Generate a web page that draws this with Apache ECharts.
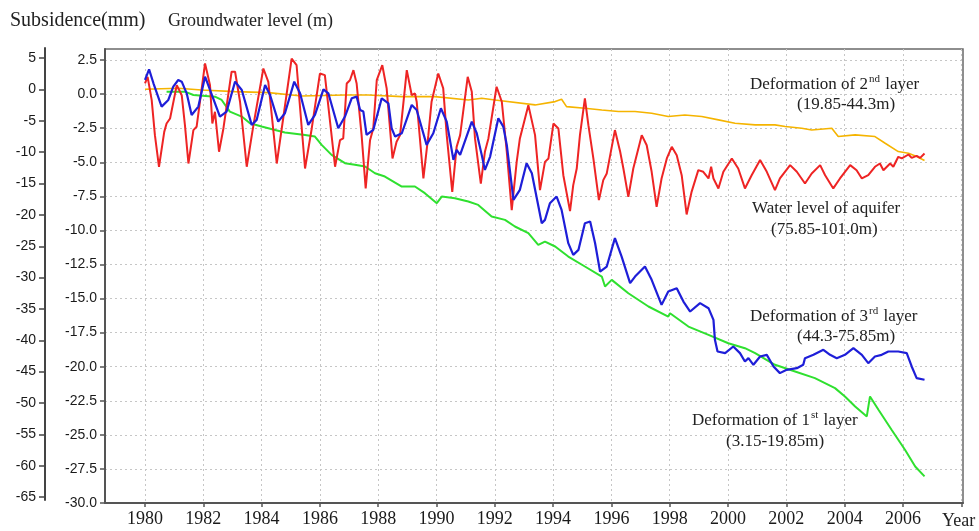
<!DOCTYPE html>
<html><head><meta charset="utf-8">
<script src="https://cdn.jsdelivr.net/npm/echarts@6.0.0/dist/echarts.min.js"></script>
<style>html,body{margin:0;padding:0;background:#fff}#c{width:979px;height:531px}</style>
</head><body><div id="c"></div>
<script>
const xTickYears = [1980,1982,1984,1986,1988,1990,1992,1994,1996,1998,2000,2002,2004,2006,2008];
const xLabelYears = [1980,1982,1984,1986,1988,1990,1992,1994,1996,1998,2000,2002,2004,2006];
const gwTicks = [2.5,0,-2.5,-5,-7.5,-10,-12.5,-15,-17.5,-20,-22.5,-25,-27.5,-30];
const subTicks = [5,0,-5,-10,-15,-20,-25,-30,-35,-40,-45,-50,-55,-60,-65];

// Water level of aquifer (m)
const waterLevel = [[1980.00,0.78],[1980.09,1.27],[1980.23,-0.44],[1980.34,-3.01],[1980.48,-5.33],[1980.66,-2.77],[1980.74,-2.16],[1980.86,-1.79],[1981.09,0.66],[1981.26,-0.08],[1981.37,-2.28],[1981.49,-5.09],[1981.66,-2.64],[1981.77,-2.40],[1982.06,2.25],[1982.23,0.66],[1982.31,-2.16],[1982.40,-1.30],[1982.54,-4.23],[1982.69,-2.52],[1982.97,1.64],[1983.09,1.64],[1983.26,-0.56],[1983.49,-5.33],[1983.72,-2.28],[1984.06,1.88],[1984.23,0.90],[1984.52,-5.09],[1984.74,-1.79],[1985.03,2.61],[1985.20,2.12],[1985.49,-5.46],[1985.72,-2.52],[1986.00,1.51],[1986.17,1.39],[1986.52,-5.33],[1986.69,-3.38],[1986.80,-3.25],[1986.92,0.78],[1987.03,1.02],[1987.15,1.76],[1987.26,0.78],[1987.43,-3.01],[1987.57,-6.92],[1987.72,-3.38],[1987.83,-2.52],[1987.95,1.02],[1988.14,2.12],[1988.29,0.42],[1988.49,-4.72],[1988.63,-3.50],[1988.75,-3.01],[1988.98,1.76],[1989.15,-0.08],[1989.26,0.05],[1989.32,-0.56],[1989.55,-6.19],[1989.72,-3.01],[1989.83,-0.56],[1990.06,1.51],[1990.23,0.42],[1990.35,-3.01],[1990.54,-7.17],[1990.69,-3.87],[1990.81,-3.01],[1991.07,1.27],[1991.21,0.17],[1991.32,-3.25],[1991.52,-6.56],[1991.66,-4.23],[1991.78,-3.25],[1992.06,0.54],[1992.24,-0.56],[1992.41,-4.23],[1992.58,-8.51],[1992.75,-4.97],[1992.86,-3.25],[1993.15,-0.81],[1993.38,-3.01],[1993.55,-7.05],[1993.72,-4.97],[1993.84,-4.72],[1994.01,-2.16],[1994.18,-2.52],[1994.35,-5.95],[1994.58,-8.59],[1994.69,-6.68],[1994.81,-5.46],[1994.92,-3.01],[1995.09,-0.32],[1995.21,-2.28],[1995.38,-4.72],[1995.57,-7.78],[1995.72,-6.31],[1995.84,-5.82],[1996.12,-2.64],[1996.30,-4.23],[1996.41,-5.46],[1996.58,-7.54],[1996.75,-5.46],[1997.04,-3.01],[1997.21,-3.75],[1997.38,-5.70],[1997.55,-8.27],[1997.72,-6.19],[1997.90,-4.72],[1998.07,-3.87],[1998.24,-4.48],[1998.41,-5.95],[1998.58,-8.83],[1998.75,-7.17],[1998.98,-5.58],[1999.15,-5.70],[1999.33,-6.19],[1999.42,-5.33],[1999.50,-6.19],[1999.67,-6.92],[1999.84,-5.70],[2000.13,-4.72],[2000.35,-5.46],[2000.58,-6.92],[2000.81,-5.95],[2001.10,-4.84],[2001.33,-5.70],[2001.61,-7.05],[2001.78,-6.19],[2002.13,-5.21],[2002.36,-5.70],[2002.64,-6.56],[2002.87,-5.82],[2003.16,-5.21],[2003.33,-5.95],[2003.61,-6.92],[2003.84,-6.19],[2004.19,-5.21],[2004.41,-5.58],[2004.59,-6.19],[2004.81,-5.95],[2005.04,-5.33],[2005.21,-5.09],[2005.33,-5.58],[2005.56,-5.09],[2005.67,-5.33],[2005.84,-4.60],[2005.96,-4.72],[2006.19,-4.43],[2006.30,-4.68],[2006.47,-4.53],[2006.59,-4.68],[2006.74,-4.36]];

// Deformation of 3rd layer (mm)
const layer3 = [[1980.00,1.53],[1980.14,3.23],[1980.29,1.00],[1980.57,-2.72],[1980.80,-1.66],[1980.97,0.47],[1981.14,1.53],[1981.26,1.26],[1981.43,-0.60],[1981.60,-4.05],[1981.83,-2.72],[1982.06,2.06],[1982.23,-0.06],[1982.57,-4.31],[1982.80,-3.51],[1983.09,1.26],[1983.32,-0.06],[1983.66,-5.64],[1983.83,-4.84],[1984.12,0.73],[1984.29,-0.86],[1984.57,-5.11],[1984.80,-3.78],[1985.12,1.26],[1985.32,-0.60],[1985.60,-5.64],[1985.83,-4.05],[1986.12,0.04],[1986.29,-0.60],[1986.63,-6.17],[1986.86,-4.31],[1987.09,-1.39],[1987.26,-1.13],[1987.38,-3.25],[1987.49,-3.51],[1987.60,-7.24],[1987.83,-6.44],[1988.12,-1.39],[1988.35,-2.19],[1988.46,-6.17],[1988.58,-7.50],[1988.81,-6.97],[1989.15,-2.45],[1989.32,-3.25],[1989.66,-8.83],[1989.89,-6.97],[1990.15,-2.98],[1990.35,-5.11],[1990.58,-11.22],[1990.69,-9.63],[1990.81,-10.42],[1991.21,-5.11],[1991.38,-6.97],[1991.55,-10.42],[1991.66,-12.82],[1991.84,-10.69],[1992.12,-4.58],[1992.29,-5.91],[1992.41,-8.83],[1992.64,-17.60],[1992.86,-16.00],[1993.09,-11.75],[1993.27,-13.35],[1993.61,-21.32],[1993.72,-20.79],[1993.89,-18.13],[1994.12,-17.07],[1994.29,-19.20],[1994.52,-24.51],[1994.69,-26.37],[1994.87,-25.57],[1995.09,-21.32],[1995.27,-21.05],[1995.44,-24.51],[1995.61,-29.03],[1995.84,-28.23],[1996.12,-23.71],[1996.35,-26.64],[1996.64,-30.89],[1996.81,-29.83],[1997.15,-28.23],[1997.38,-30.36],[1997.72,-34.35],[1997.95,-32.22],[1998.24,-31.69],[1998.47,-33.82],[1998.70,-35.41],[1999.04,-34.08],[1999.33,-34.88],[1999.50,-36.74],[1999.55,-39.93],[1999.64,-41.79],[1999.90,-42.05],[2000.18,-40.99],[2000.41,-42.05],[2000.58,-43.38],[2000.70,-42.85],[2000.87,-43.91],[2001.10,-42.58],[2001.33,-42.32],[2001.56,-44.18],[2001.78,-45.24],[2002.01,-44.71],[2002.36,-44.45],[2002.58,-43.91],[2002.64,-42.85],[2002.93,-42.32],[2003.27,-41.52],[2003.50,-42.32],[2003.73,-42.85],[2004.01,-42.32],[2004.30,-41.26],[2004.59,-42.32],[2004.81,-43.65],[2005.04,-42.58],[2005.27,-42.32],[2005.50,-41.79],[2005.84,-41.79],[2006.13,-42.05],[2006.30,-44.18],[2006.47,-46.04],[2006.74,-46.30]];

// Deformation of 2nd layer (mm)
const layer2 = [[1980.00,0.05],[1981.14,0.21],[1981.94,-0.06],[1983.09,-0.33],[1984.23,-0.49],[1985.38,-1.02],[1986.86,-0.86],[1987.66,-0.86],[1988.81,-1.13],[1989.95,-1.13],[1991.09,-1.66],[1991.55,-1.39],[1992.01,-1.66],[1993.38,-2.45],[1994.07,-1.92],[1994.29,-1.55],[1994.46,-2.72],[1995.09,-2.98],[1995.67,-3.25],[1996.24,-3.51],[1996.81,-3.51],[1997.38,-3.78],[1997.95,-4.31],[1998.52,-4.05],[1999.10,-4.31],[1999.67,-4.84],[2000.24,-5.37],[2000.93,-5.64],[2001.61,-5.64],[2001.96,-5.90],[2002.53,-6.17],[2002.87,-6.44],[2003.56,-6.17],[2003.78,-7.50],[2004.36,-7.23],[2005.04,-7.50],[2005.39,-8.56],[2005.84,-9.89],[2006.19,-10.16],[2006.47,-10.69],[2006.74,-11.33]];

// Deformation of 1st layer (mm)
const layer1 = [[1980.74,-0.33],[1981.37,-0.33],[1981.66,-0.86],[1982.40,-1.13],[1982.63,-1.66],[1982.91,-3.51],[1983.32,-4.31],[1983.60,-5.37],[1984.00,-5.90],[1984.23,-6.17],[1984.80,-6.86],[1985.49,-7.24],[1985.83,-7.50],[1986.06,-8.83],[1986.40,-10.42],[1986.86,-11.75],[1987.20,-12.01],[1987.55,-12.28],[1987.89,-13.35],[1988.23,-13.88],[1988.81,-15.47],[1989.26,-15.47],[1989.60,-16.53],[1990.01,-18.13],[1990.18,-17.07],[1990.63,-17.33],[1991.09,-17.86],[1991.43,-18.40],[1991.89,-20.26],[1992.35,-20.79],[1992.69,-21.85],[1993.15,-22.91],[1993.49,-24.78],[1993.72,-24.25],[1994.07,-25.04],[1994.52,-26.64],[1995.09,-28.23],[1995.67,-29.83],[1995.78,-31.42],[1996.01,-30.36],[1996.58,-32.49],[1997.27,-34.61],[1997.95,-36.21],[1998.01,-35.68],[1998.64,-37.81],[1999.33,-39.14],[2000.01,-40.47],[2000.58,-41.26],[2000.93,-42.05],[2001.61,-43.91],[2002.30,-44.98],[2002.98,-46.04],[2003.67,-47.63],[2004.01,-48.96],[2004.36,-50.56],[2004.76,-52.15],[2004.87,-48.96],[2005.16,-51.09],[2005.61,-54.28],[2006.07,-57.47],[2006.42,-60.13],[2006.74,-61.72]];

const chart = echarts.init(document.getElementById('c'), null, {renderer:'canvas'});
const gridLine = {show:true, lineStyle:{type:[2,3], color:'#c6c6c6', width:1}};
const serif = 'Liberation Serif';
const sans = 'Liberation Sans';
const X_MIN = 1978.628, X_MAX = 2008.06;

function txt(x, y, text, size){
  return {type:'text', x:x, y:y, z:100, style:{text:text, fontFamily:serif, fontSize:size, fill:'#222', textAlign:'left', textVerticalAlign:'middle',
    rich:{
      n:{fontFamily:serif, fontSize:size, fill:'#222', lineHeight:22, verticalAlign:'middle'},
      s:{fontFamily:serif, fontSize:Math.round(size*0.62), fill:'#222', lineHeight:10, verticalAlign:'top', padding:[0,1,0,1]}
    }}};
}

chart.setOption({
  animation:false,
  backgroundColor:'#fff',
  grid:[
    {left:105, right:16, top:49, bottom:28, show:true, borderColor:'#6a6a6a', borderWidth:1.5},
    {left:105, right:16, top:48, bottom:31, show:false}
  ],
  xAxis:[
    {type:'value', gridIndex:0, min:X_MIN, max:X_MAX,
      axisLine:{show:true, onZero:false, lineStyle:{color:'#555', width:2}},
      axisTick:{show:true, length:4, customValues:xTickYears, lineStyle:{color:'#555', width:1.5}},
      axisLabel:{customValues:xLabelYears, formatter:function(v){return String(Math.round(v));}, fontFamily:serif, fontSize:18, color:'#1a1a1a', margin:7},
      splitLine:gridLine},
    {type:'value', gridIndex:1, min:X_MIN, max:X_MAX, show:false}
  ],
  yAxis:[
    {type:'value', gridIndex:0, min:-30, max:3.31,
      axisLine:{show:true, onZero:false, lineStyle:{color:'#555', width:2}},
      axisTick:{show:true, length:5, customValues:gwTicks, lineStyle:{color:'#555', width:1.5}},
      axisLabel:{customValues:gwTicks, formatter:function(v){return v.toFixed(1);}, fontFamily:sans, fontSize:14, color:'#1a1a1a', margin:8},
      splitLine:gridLine},
    {type:'value', gridIndex:1, min:-65.48, max:6.63, offset:60,
      axisLine:{show:true, onZero:false, lineStyle:{color:'#444', width:2}},
      axisTick:{show:true, length:6, customValues:subTicks, lineStyle:{color:'#444', width:1.5}},
      axisLabel:{customValues:subTicks, formatter:function(v){return String(Math.round(v));}, fontFamily:sans, fontSize:14, color:'#1a1a1a', margin:9},
      splitLine:{show:false}}
  ],
  series:[
    {type:'line', name:'Deformation of 2nd layer', xAxisIndex:1, yAxisIndex:1, data:layer2, showSymbol:false, lineStyle:{color:'#f5b400', width:1.6}, z:2},
    {type:'line', name:'Deformation of 1st layer', xAxisIndex:1, yAxisIndex:1, data:layer1, showSymbol:false, lineStyle:{color:'#2fe02f', width:2}, z:3},
    {type:'line', name:'Water level of aquifer', xAxisIndex:0, yAxisIndex:0, data:waterLevel, showSymbol:false, lineStyle:{color:'#ee2424', width:2}, z:4},
    {type:'line', name:'Deformation of 3rd layer', xAxisIndex:1, yAxisIndex:1, data:layer3, showSymbol:false, lineStyle:{color:'#1e1ed8', width:2.2}, z:5}
  ],
  graphic:[
    txt(10, 21, 'Subsidence(mm)', 20),
    txt(168, 21, 'Groundwater level (m)', 18),
    txt(750, 85, '{n|Deformation of 2}{s|nd}{n| layer}', 17),
    txt(797, 105, '(19.85-44.3m)', 17),
    txt(752, 209, 'Water level of aquifer', 17),
    txt(771, 230, '(75.85-101.0m)', 17),
    txt(750, 317, '{n|Deformation of 3}{s|rd}{n| layer}', 17),
    txt(797, 337, '(44.3-75.85m)', 17),
    txt(692, 421, '{n|Deformation of 1}{s|st}{n| layer}', 17),
    txt(726, 442, '(3.15-19.85m)', 17),
    txt(942, 521, 'Year', 18)
  ]
});
</script>
</body></html>
